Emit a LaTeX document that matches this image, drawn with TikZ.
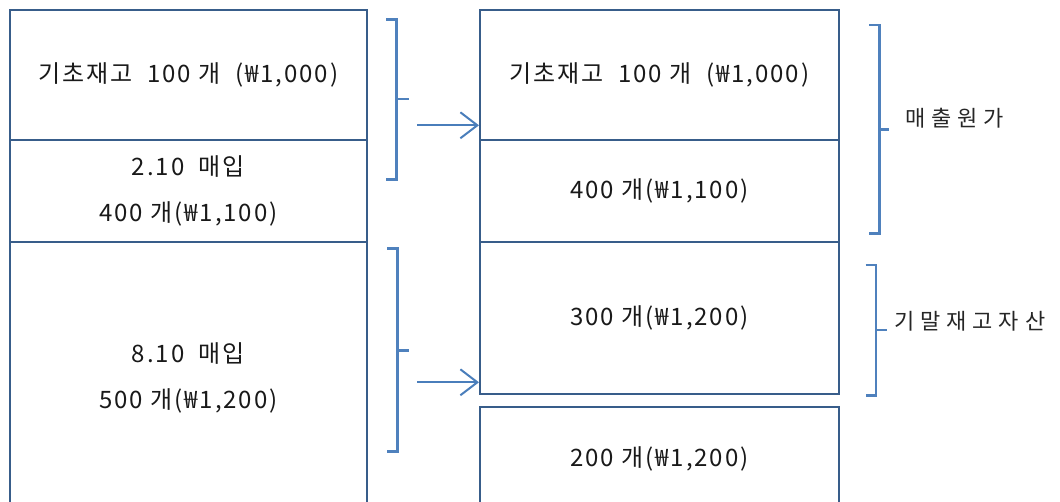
\documentclass[tikz,border=0pt]{standalone}
\usepackage{fontspec}
\setmainfont[LetterSpace=8]{Noto Sans CJK KR}
\newfontfamily\spaced[LetterSpace=27]{Noto Sans CJK KR}
\usetikzlibrary{arrows.meta}
\definecolor{boxline}{RGB}{56,93,138}
\definecolor{braceline}{RGB}{79,129,189}
\definecolor{arrowline}{RGB}{74,126,187}
\begin{document}
\begin{tikzpicture}[x=1pt,y=-1pt,
  cell/.style={draw=boxline, line width=2pt, inner sep=0pt, anchor=north west,
    align=center, font=\fontsize{24}{46}\selectfont, text=black!90},
  bracketline/.style={draw=braceline, line width=2.5pt},
  flow/.style={draw=arrowline, line width=2pt,
    -{Straight Barb[length=17pt,width=26pt,line width=2pt]}},
  side/.style={anchor=west, inner sep=0pt, font=\spaced\fontsize{22}{24}\selectfont, text=black!85}]
\useasboundingbox (0,0) rectangle (1060,502);
\clip (0,0) rectangle (1060,502);

% left column: stock on hand and purchases
\node[cell, minimum width=357pt, minimum height=130pt] (L1) at (9,9)
  {기초재고\ \ 100 개\ \ (₩1,000)};
\node[cell, minimum width=357pt, minimum height=102pt] (L2) at (9,139)
  {2.10\ \ 매입\\400 개(₩1,100)};
\node[cell, minimum width=357pt, minimum height=271pt] (L3) at (9,241)
  {8.10\ \ 매입\\500 개(₩1,200)};

% right column: allocation of units
\node[cell, minimum width=359pt, minimum height=130pt] (R1) at (479,9)
  {기초재고\ \ 100 개\ \ (₩1,000)};
\node[cell, minimum width=359pt, minimum height=102pt] (R2) at (479,139)
  {400 개(₩1,100)};
\node[cell, minimum width=359pt, minimum height=152pt] (R3) at (479,241)
  {300 개(₩1,200)};
\node[cell, minimum width=359pt, minimum height=104pt] (R4) at (479,406)
  {200 개(₩1,200)};

% brackets between the columns
\draw[bracketline] (386,19.5) -- (396.7,19.5) -- (396.7,179.3) -- (386,179.3);
\draw[bracketline] (396.7,99) -- (409.3,99);
\draw[bracketline] (387,248.3) -- (397.7,248.3) -- (397.7,451.7) -- (387,451.7);
\draw[bracketline] (397.7,350.7) -- (409.3,350.7);

% arrows into the right column
\coordinate (a1) at (417,125.3);
\coordinate (a2) at (417,382.3);
\draw[flow] (a1) -- (a1 -| R1.west);
\draw[flow] (a2) -- (a2 -| R3.west);

% brackets on the right with their labels
\draw[bracketline] (869,25) -- (879.3,25) -- (879.3,233.3) -- (869,233.3);
\draw[bracketline] (879.3,129.3) -- (889.3,129.3);
\draw[bracketline] (865.7,265) -- (876,265) -- (876,395.7) -- (865.7,395.7);
\draw[bracketline] (876,330) -- (886.7,330);

\node[side] (cogs) at (905,118) {매출원가};
\node[side] (endinv) at (894,321.7) {기말재고자산};
\end{tikzpicture}
\end{document}
